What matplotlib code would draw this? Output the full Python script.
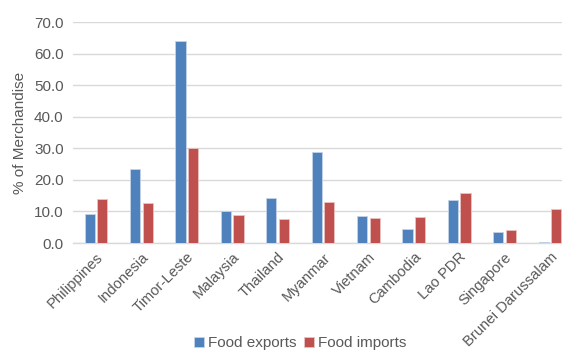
import matplotlib
matplotlib.use("Agg")
import matplotlib.pyplot as plt
import numpy as np

countries = ["Philippines", "Indonesia", "Timor-Leste", "Malaysia", "Thailand",
             "Myanmar", "Vietnam", "Cambodia", "Lao PDR", "Singapore",
             "Brunei Darussalam"]
food_exports = [9.3, 23.5, 63.9, 10.0, 14.4, 28.8, 8.7, 4.4, 13.5, 3.4, 0.3]
food_imports = [13.8, 12.6, 30.2, 8.8, 7.5, 13.0, 7.8, 8.2, 15.7, 4.1, 10.8]
y_ticks = [0, 10, 20, 30, 40, 50, 60, 70]

plt.rcParams["font.family"] = ["Liberation Sans", "DejaVu Sans"]
text_color = "#595959"
grid_color = "#D9D9D9"
fs = 11

fig = plt.figure(figsize=(5.62, 3.5), dpi=100)
ax = fig.add_axes([0.1305, 0.3057, 0.8886, 0.6313])

x = np.arange(len(countries))
w = 0.225
off = 0.139
ax.bar(x - off, food_exports, width=w, color="#4F81BD", edgecolor="#C5D3E8",
       linewidth=0.6, label="Food exports", zorder=3)
ax.bar(x + off, food_imports, width=w, color="#C0504D", edgecolor="#E8C3C2",
       linewidth=0.6, label="Food imports", zorder=3)

ax.set_xlim(-0.5, len(countries) - 0.5)
ax.set_ylim(0, 70)
ax.set_yticks(y_ticks)
ax.set_yticklabels([f"{v:.1f}" for v in y_ticks])
ax.yaxis.grid(True, color=grid_color, linewidth=1.0, zorder=0)
ax.set_axisbelow(True)
for s in ["top", "right", "left"]:
    ax.spines[s].set_visible(False)
ax.spines["bottom"].set_color(grid_color)
ax.spines["bottom"].set_linewidth(1.0)
ax.tick_params(axis="both", length=0, labelsize=fs, labelcolor=text_color)
ax.tick_params(axis="y", pad=7)
ax.set_xticks(x)
ax.set_xticklabels(countries, rotation=45, ha="right", rotation_mode="anchor",
                   fontsize=10.6)
ax.tick_params(axis="x", pad=5)
ax.set_ylabel("% of Merchandise", fontsize=fs, color=text_color, labelpad=5)

fig.legend(loc="center", bbox_to_anchor=(0.534, 1 - 343 / 350), ncol=2, frameon=False,
           fontsize=fs, labelcolor=text_color, handlelength=0.65,
           handleheight=0.65, handletextpad=0.25, columnspacing=0.5,
           borderaxespad=0, borderpad=0)

fig.savefig("out.png", dpi=100)
